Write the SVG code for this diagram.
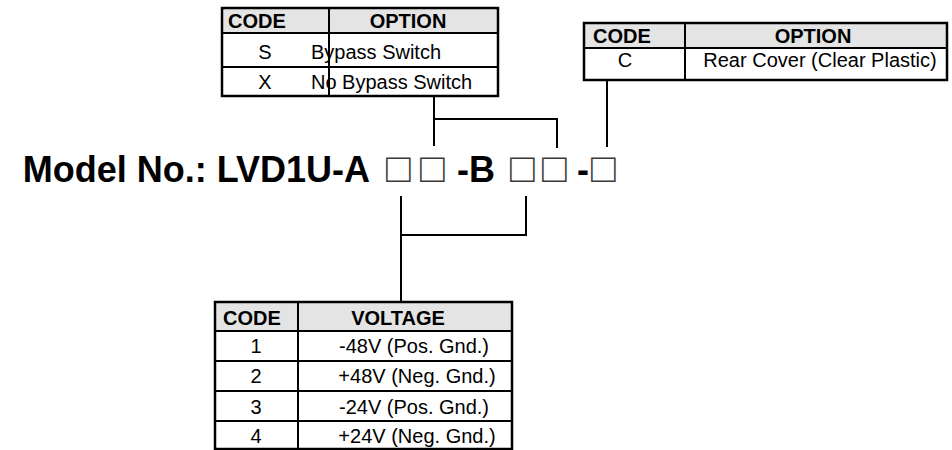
<svg xmlns="http://www.w3.org/2000/svg" width="952" height="450" viewBox="0 0 952 450">
<style>
.hdr{fill:#e4e4e4}
.box{fill:none;stroke:#000;stroke-width:2.5}
.ln{stroke:#000;stroke-width:2;fill:none}
.th{font-family:"Liberation Sans",Arial,sans-serif;font-weight:bold;font-size:20px;fill:#000}
.td{font-family:"Liberation Sans",Arial,sans-serif;font-size:20px;fill:#000}
.mdl{font-family:"Liberation Sans",Arial,sans-serif;font-weight:bold;font-size:36px;fill:#000}
.sq{font-family:"Liberation Sans",Arial,sans-serif;font-size:41px;fill:#3a3a3a}
.c{text-anchor:middle}
</style>
<rect width="952" height="450" fill="#fff"/>
<g id="table-bypass">
<rect class="hdr" x="222" y="8" width="276" height="25"/>
<rect class="box" x="222" y="8" width="276" height="88"/>
<line class="ln" x1="222" y1="33" x2="498" y2="33"/>
<line class="ln" x1="222" y1="67" x2="498" y2="67"/>
<line class="ln" x1="329" y1="8" x2="329" y2="96"/>
<text class="th" x="228" y="28">CODE</text>
<text class="th c" x="408" y="28">OPTION</text>
<text class="td c" x="265" y="59">S</text>
<text class="td" x="311" y="59">Bypass Switch</text>
<text class="td c" x="265" y="89">X</text>
<text class="td" x="311" y="89">No Bypass Switch</text>
</g>
<g id="table-cover">
<rect class="hdr" x="584" y="23" width="363" height="25"/>
<rect class="box" x="584" y="23" width="363" height="57"/>
<line class="ln" x1="584" y1="48" x2="947" y2="48"/>
<line class="ln" x1="685" y1="23" x2="685" y2="80"/>
<text class="th" x="593" y="43">CODE</text>
<text class="th c" x="813" y="43">OPTION</text>
<text class="td c" x="625" y="67">C</text>
<text class="td c" x="820" y="67">Rear Cover (Clear Plastic)</text>
</g>
<g id="table-voltage">
<rect class="hdr" x="215" y="302" width="297" height="29"/>
<rect class="box" x="215" y="302" width="297" height="147"/>
<line class="ln" x1="215" y1="331" x2="512" y2="331"/>
<line class="ln" x1="215" y1="361" x2="512" y2="361"/>
<line class="ln" x1="215" y1="391" x2="512" y2="391"/>
<line class="ln" x1="215" y1="421" x2="512" y2="421"/>
<line class="ln" x1="298" y1="302" x2="298" y2="449"/>
<text class="th" x="223" y="325">CODE</text>
<text class="th c" x="398" y="325">VOLTAGE</text>
<text class="td c" x="256" y="353">1</text>
<text class="td c" x="414" y="353">-48V (Pos. Gnd.)</text>
<text class="td c" x="256" y="383">2</text>
<text class="td c" x="417" y="383">+48V (Neg. Gnd.)</text>
<text class="td c" x="256" y="414">3</text>
<text class="td c" x="414" y="414">-24V (Pos. Gnd.)</text>
<text class="td c" x="256" y="443">4</text>
<text class="td c" x="417" y="443">+24V (Neg. Gnd.)</text>
</g>
<g id="model-number">
<text class="mdl" x="370" y="182" text-anchor="end">Model No.: LVD1U-A</text>
<text class="sq" x="386" y="182">□</text>
<text class="sq" x="420" y="182">□</text>
<text class="mdl" x="457" y="182">-B</text>
<text class="sq" x="510" y="182">□</text>
<text class="sq" x="542" y="182">□</text>
<text class="mdl" x="577" y="182">-</text>
<text class="sq" x="591" y="182">□</text>
</g>
<g id="connectors">
<polyline class="ln" points="434,96 434,146"/>
<polyline class="ln" points="434,119 557,119 557,148"/>
<polyline class="ln" points="607,80 607,147"/>
<polyline class="ln" points="401,196 401,302"/>
<polyline class="ln" points="401,235 526,235 526,196"/>
</g>
</svg>
